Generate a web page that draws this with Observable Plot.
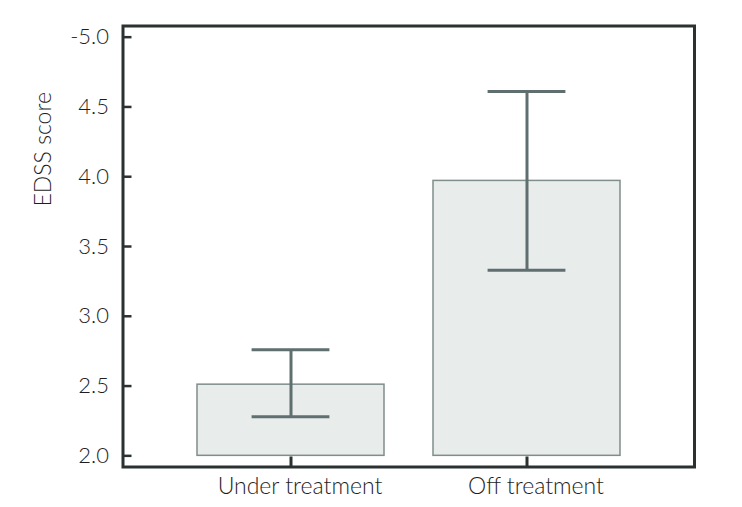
<!DOCTYPE html>
<html><head><meta charset="utf-8">
<script src="https://cdn.jsdelivr.net/npm/d3@7"></script>
<script src="https://cdn.jsdelivr.net/npm/@observablehq/plot@0.6"></script>
<style>body{margin:0;background:#fff}</style>
</head><body><div id="chart"></div>
<script>
const categories = ["Under treatment", "Off treatment"];
const means = [2.51, 3.97];
const lower = [2.28, 3.33];
const upper = [2.76, 4.61];
const baseline = 2.0;
const yTickValues = [2.0, 2.5, 3.0, 3.5, 4.0, 4.5, 5.0];
const yTickLabels = ["2.0", "2.5", "3.0", "3.5", "4.0", "4.5", "-5.0"];
const yLabel = "EDSS score";

const data = categories.map((c, i) => ({category: c, mean: means[i], lo: lower[i], hi: upper[i]}));
const ink = "#2b3131";
const errColor = "#5f6e6f";

const chart = Plot.plot({
  width: 742, height: 507,
  marginLeft: 122.5, marginRight: 48, marginTop: 25.5, marginBottom: 40.5,
  style: {fontFamily: "Lato, sans-serif", fontWeight: 300, fontSize: "22px", color: "#1e1e1e", background: "#fff"},
  x: {domain: categories, paddingInner: 0.208, paddingOuter: 0.314, axis: null},
  y: {domain: [1.92, 5.08], axis: null},
  marks: [
    Plot.barY(data, {x: "category", y1: baseline, y2: "mean", fill: "#e8ecea", stroke: "#7f8d8c", strokeWidth: 1.5}),
    Plot.ruleX(data, {x: "category", y1: "lo", y2: "hi", stroke: errColor, strokeWidth: 3}),
    Plot.tickY(data, {x: "category", y: "lo", stroke: errColor, strokeWidth: 3, insetLeft: 54.6, insetRight: 54.6}),
    Plot.tickY(data, {x: "category", y: "hi", stroke: errColor, strokeWidth: 3, insetLeft: 54.6, insetRight: 54.6}),
    Plot.frame({stroke: ink, strokeWidth: 3}),
    Plot.axisY(yTickValues, {tickSize: 0, tickPadding: 14, tickFormat: d => yTickLabels[yTickValues.indexOf(d)], label: null, fill: "#1e1e1e"}),
    Plot.axisY(yTickValues, {tickSize: -9, tickFormat: () => "", label: null, stroke: ink, strokeWidth: 2.5}),
    Plot.axisX(categories, {tickSize: 0, tickPadding: 11, label: null, dx: 9, fontSize: 23, fill: "#1e1e1e"}),
    Plot.axisX(categories, {tickSize: -10, tickFormat: () => "", label: null, stroke: ink, strokeWidth: 3}),
    Plot.text([yLabel], {frameAnchor: "left", rotate: -90, dx: -79, dy: -40, fontSize: 23, fill: "#1e1e1e"})
  ]
});
document.getElementById("chart").append(chart);
</script>
</body></html>
